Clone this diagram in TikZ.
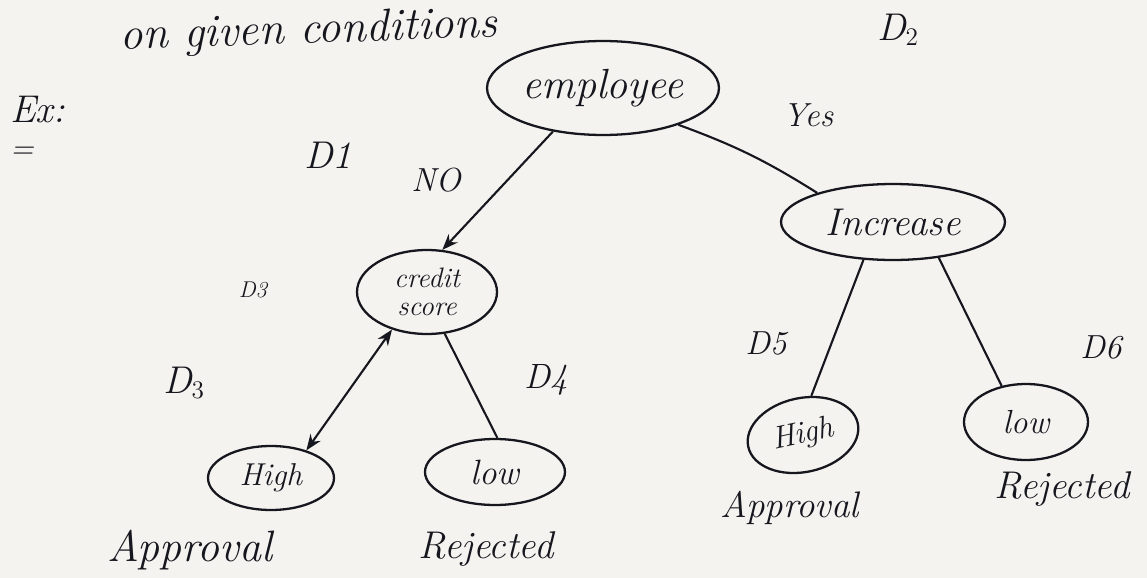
\documentclass[tikz,border=0pt]{standalone}
\usetikzlibrary{shapes.geometric,arrows.meta}
\definecolor{paper}{HTML}{F4F3EF}
\definecolor{ink}{HTML}{16161E}
\begin{document}
\begin{tikzpicture}[x=0.02cm,y=-0.02cm,
  every node/.style={text=ink,font=\itshape},
  oval/.style={draw=ink,line width=1.3pt,ellipse,inner sep=0pt,align=center},
  hand/.style={font=\itshape\fontsize{#1}{#1}\selectfont},
  edge/.style={draw=ink,line width=1.2pt},
  tip/.style={-{Stealth[length=9pt,width=7pt]}}]
% paper
\fill[paper] (0,0) rectangle (1147,578);
\useasboundingbox (0,0) rectangle (1147,578);

% heading line and example mark
\node[hand=26pt,anchor=base west,rotate=2] (head) at (114,50) {on given conditions};
\node[hand=22pt,anchor=base west] (ex) at (4,122) {Ex:};
\node[hand=18pt,anchor=base west] (exline) at (4,158) {=};

% tree nodes
\node[oval,minimum width=4.64cm,minimum height=1.88cm,hand=24pt] (emp) at (603,88) {employee};
\node[oval,minimum width=4.48cm,minimum height=1.52cm,hand=22pt] (inc) at (893,222) {Increase};
\node[oval,minimum width=2.8cm,minimum height=1.68cm,hand=16pt] (cs) at (427,292) {credit\\score};
\node[oval,minimum width=2.52cm,minimum height=1.28cm,hand=18pt] (hl) at (271,478) {High};
\node[oval,minimum width=2.8cm,minimum height=1.32cm,hand=20pt] (ll) at (495,472) {low};
\node[oval,minimum width=2.24cm,minimum height=1.48cm,hand=18pt,rotate=12] (hr) at (803,435) {High};
\node[oval,minimum width=2.48cm,minimum height=1.52cm,hand=19pt] (lr) at (1026,422) {low};

% outcome texts
\node[hand=25pt] (al) at (190,550) {Approval};
\node[hand=22pt] (rl) at (486,549) {Rejected};
\node[hand=21pt] (ar) at (790,508) {Approval};
\node[hand=22pt] (rr) at (1062,489) {Rejected};

% branch labels
\node[hand=22pt] (d1) at (328,155) {D1};
\node[hand=22pt] (d2) at (898,30) {D$_2$};
\node[hand=13pt] (d3a) at (253,290) {D3};
\node[hand=22pt] (d3) at (184,383) {D$_3$};
\node[hand=20pt] (d4) at (546,380) {D4};
\node[hand=19pt] (d5) at (766,343) {D5};
\node[hand=19pt] (d6) at (1101,347) {D6};
\node[hand=19pt] (no) at (436,180) {NO};
\node[hand=19pt] (yes) at (808,115) {Yes};

% connectors
\draw[edge,tip] (emp.-139.5) -- (cs.70);
\draw[edge] (emp.-26) to[bend left=6] (inc.159);
\draw[edge,{Stealth[length=9pt,width=7pt]}-{Stealth[length=9pt,width=7pt]}] (cs.-133) -- (hl.38);
\draw[edge] (cs.-67) -- (ll.86);
\draw[edge] (inc.-128) -- (hr.66);
\draw[edge] (inc.-38) -- (lr.124);
\end{tikzpicture}
\end{document}
